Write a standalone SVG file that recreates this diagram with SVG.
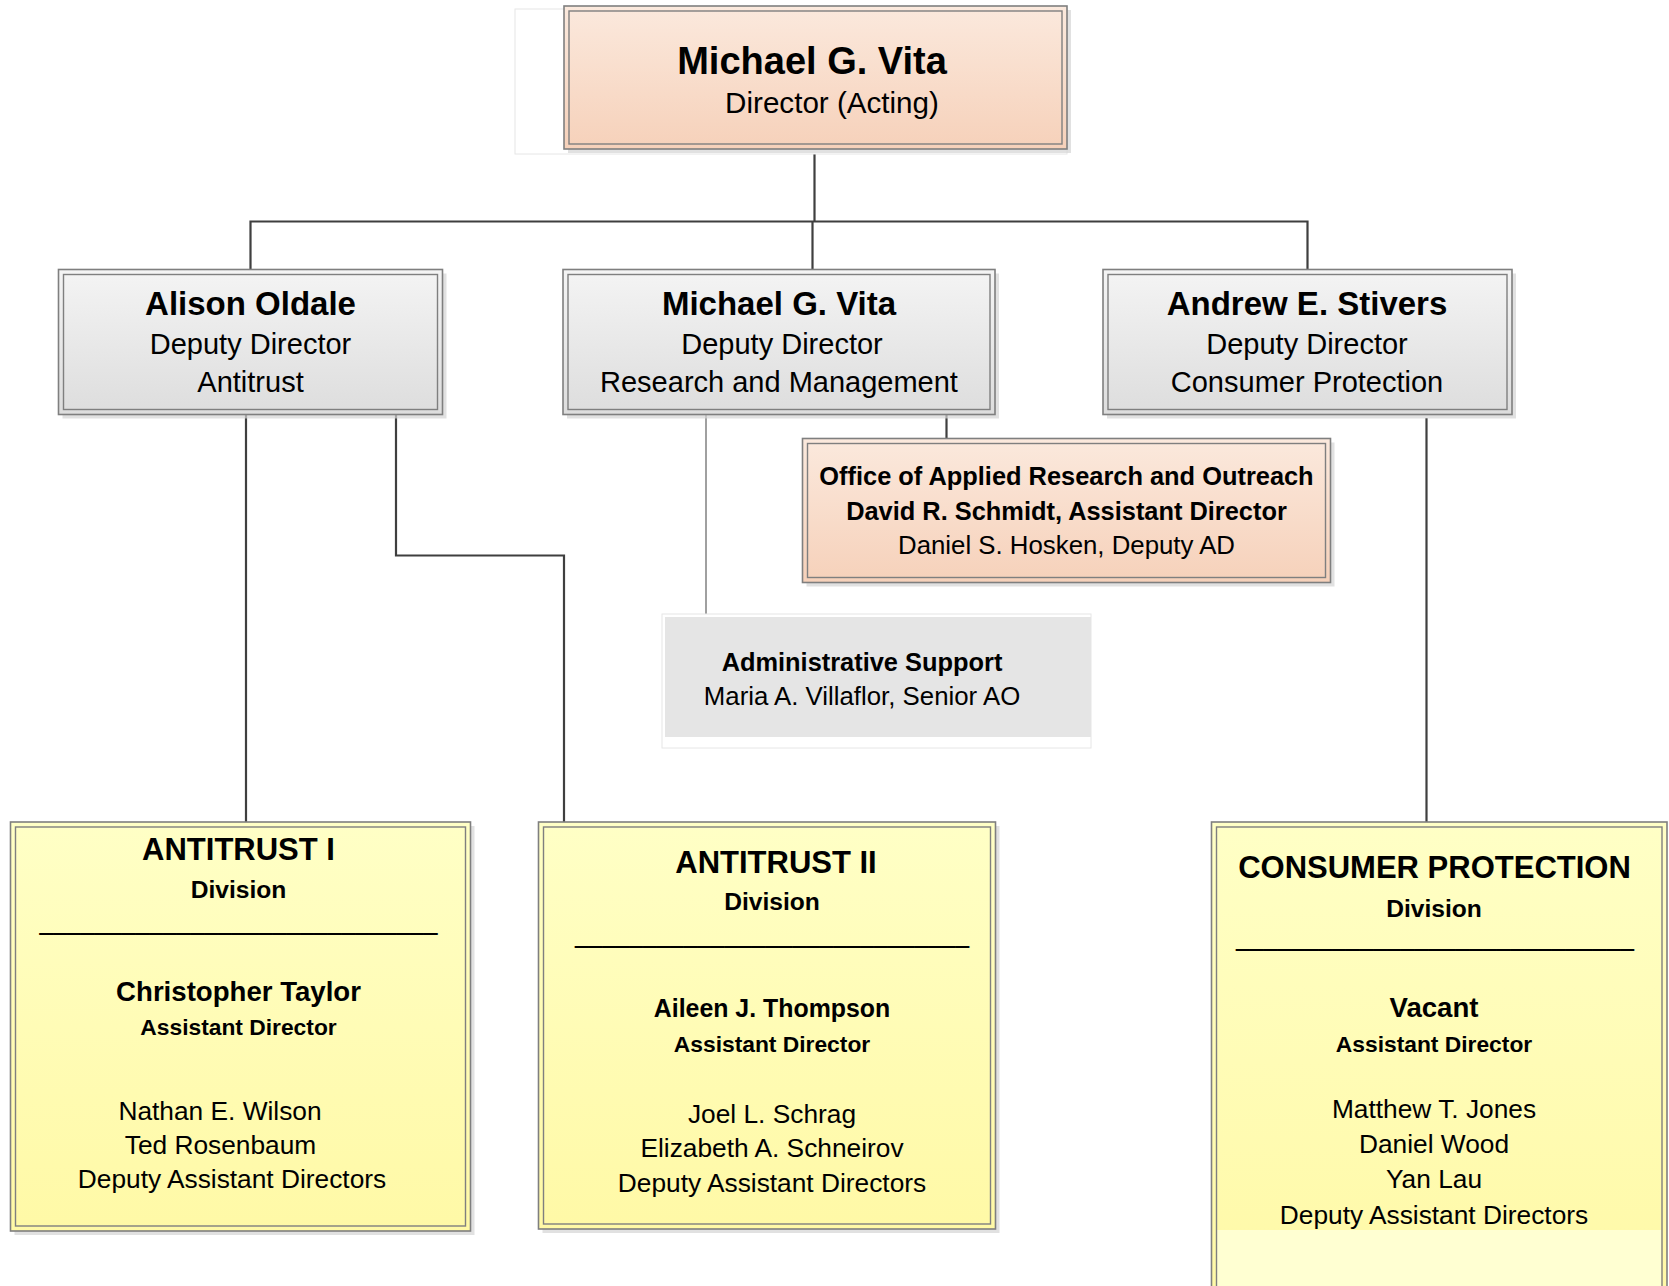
<svg xmlns="http://www.w3.org/2000/svg" width="1669" height="1286" viewBox="0 0 1669 1286">
<defs>
<linearGradient id="peach" x1="0" y1="0" x2="0" y2="1"><stop offset="0" stop-color="#FBE9DD"/><stop offset="1" stop-color="#F6D1BA"/></linearGradient>
<linearGradient id="gray" x1="0" y1="0" x2="0" y2="1"><stop offset="0" stop-color="#F4F4F4"/><stop offset="1" stop-color="#DDDDDD"/></linearGradient>
<linearGradient id="yellow" x1="0" y1="0" x2="0" y2="1"><stop offset="0" stop-color="#FFFFC6"/><stop offset="1" stop-color="#FFF9A6"/></linearGradient>
<linearGradient id="yellowcp" x1="0" y1="0" x2="0" y2="1"><stop offset="0" stop-color="#FFFFC6"/><stop offset="1" stop-color="#FFF9A6"/></linearGradient>
</defs>
<style>
text{font-family:"Liberation Sans",Arial,sans-serif;fill:#000;text-anchor:middle}
.b{font-weight:bold}
.shadow{fill:#D4D4D4;opacity:0.7}
.outer{stroke:#7F7F7F;stroke-width:1.6}
.inner{fill:none;stroke:#7F7F7F;stroke-width:1.4}
.faint{fill:#FFFFFF;stroke:#E6E6E6;stroke-width:1}
.conn{fill:none;stroke:#3F3F3F;stroke-width:2.2}
.connlight{fill:none;stroke:#808080;stroke-width:1.5}
.t1{font-size:38px;font-weight:bold}
.t2{font-size:29.6px}
.m1{font-size:33px;font-weight:bold}
.m2{font-size:29px}
.o1{font-size:25.4px;font-weight:bold}
.o2{font-size:25.8px}
.dt{font-size:31px;font-weight:bold}
.dv{font-size:24.6px;font-weight:bold}
.dp{font-size:27.6px;font-weight:bold}
.da{font-size:22.8px;font-weight:bold}
.dn{font-size:26.3px}
.us{font-size:32px}
</style>

<g id="connectors">
<polyline class="conn" points="814.5,149 814.5,221.5"/>
<polyline class="conn" points="250.5,269.5 250.5,221.5 1307.5,221.5 1307.5,269.5"/>
<polyline class="conn" points="812.5,221.5 812.5,269.5"/>
<polyline class="conn" points="246,414 246,822"/>
<polyline class="conn" points="396,412 396,555.5 564,555.5 564,822"/>
<polyline class="connlight" points="706,414 706,615"/>
<polyline class="conn" points="946.5,414 946.5,438.5"/>
<polyline class="conn" points="1426.5,418 1426.5,822"/>
</g>

<g id="director">
<rect class="faint" x="515" y="9" width="552" height="145"/>
<rect class="shadow" x="568" y="10" width="503" height="143"/>
<rect class="outer" fill="url(#peach)" x="564" y="6" width="503" height="143"/>
<rect class="inner" x="569" y="11" width="493" height="133"/>
<text class="t1" x="812" y="73.5">Michael G. Vita</text>
<text class="t2" x="832" y="113">Director (Acting)</text>
</g>

<g id="dd-antitrust">
<rect class="shadow" x="62.5" y="273.5" width="384" height="145"/>
<rect class="outer" fill="url(#gray)" x="58.5" y="269.5" width="384" height="145"/>
<rect class="inner" x="63.5" y="274.5" width="374" height="135"/>
<text class="m1" x="250.5" y="315">Alison Oldale</text>
<text class="m2" x="250.5" y="353.5">Deputy Director</text>
<text class="m2" x="250.5" y="391.5">Antitrust</text>
</g>

<g id="dd-research">
<rect class="shadow" x="567" y="273.5" width="432" height="145"/>
<rect class="outer" fill="url(#gray)" x="563" y="269.5" width="432" height="145"/>
<rect class="inner" x="568" y="274.5" width="422" height="135"/>
<text class="m1" x="779" y="315">Michael G. Vita</text>
<text class="m2" x="782" y="353.5">Deputy Director</text>
<text class="m2" x="779" y="391.5">Research and Management</text>
</g>

<g id="dd-consumer">
<rect class="shadow" x="1107" y="273.5" width="409" height="145"/>
<rect class="outer" fill="url(#gray)" x="1103" y="269.5" width="409" height="145"/>
<rect class="inner" x="1108" y="274.5" width="399" height="135"/>
<text class="m1" x="1307" y="315">Andrew E. Stivers</text>
<text class="m2" x="1307" y="353.5">Deputy Director</text>
<text class="m2" x="1307" y="391.5">Consumer Protection</text>
</g>

<g id="oaro">
<rect class="shadow" x="806.5" y="442.5" width="528" height="144"/>
<rect class="outer" fill="url(#peach)" x="802.5" y="438.5" width="528" height="144"/>
<rect class="inner" x="807.5" y="443.5" width="518" height="134"/>
<text class="o1" x="1066.5" y="484.5">Office of Applied Research and Outreach</text>
<text class="o1" x="1066.5" y="519.5">David R. Schmidt, Assistant Director</text>
<text class="o2" x="1066.5" y="554">Daniel S. Hosken, Deputy AD</text>
</g>

<g id="admin">
<rect class="faint" x="662" y="614" width="429" height="134"/>
<rect x="665" y="617" width="426" height="120" fill="#E5E5E5"/>
<text class="o1" x="862" y="670.5">Administrative Support</text>
<text class="o2" x="862" y="705">Maria A. Villaflor, Senior AO</text>
</g>

<g id="antitrust-1">
<rect class="shadow" x="14.5" y="826" width="460" height="409"/>
<rect class="outer" fill="url(#yellow)" x="10.5" y="822" width="460" height="409"/>
<rect class="inner" x="15.5" y="827" width="450" height="399"/>
<text class="dt" x="238.5" y="860">ANTITRUST I</text>
<text class="dv" x="238.5" y="897.5">Division</text>
<text class="us" x="238.5" y="929" textLength="398" lengthAdjust="spacingAndGlyphs">_____________________________</text>
<text class="dp" x="238.5" y="1000.5">Christopher Taylor</text>
<text class="da" x="238.5" y="1034.5">Assistant Director</text>
<text class="dn" x="220" y="1120">Nathan E. Wilson</text>
<text class="dn" x="220.5" y="1154">Ted Rosenbaum</text>
<text class="dn" x="232" y="1188">Deputy Assistant Directors</text>
</g>

<g id="antitrust-2">
<rect class="shadow" x="542.5" y="826" width="457" height="407"/>
<rect class="outer" fill="url(#yellow)" x="538.5" y="822" width="457" height="407"/>
<rect class="inner" x="543.5" y="827" width="447" height="397"/>
<text class="dt" x="776" y="873">ANTITRUST II</text>
<text class="dv" x="772" y="910">Division</text>
<text class="us" x="772" y="942" textLength="394" lengthAdjust="spacingAndGlyphs">_____________________________</text>
<text class="o1" x="772" y="1016.5" style="font-size:24.9px">Aileen J. Thompson</text>
<text class="da" x="772" y="1051.5">Assistant Director</text>
<text class="dn" x="772" y="1123">Joel L. Schrag</text>
<text class="dn" x="772" y="1157">Elizabeth A. Schneirov</text>
<text class="dn" x="772" y="1192">Deputy Assistant Directors</text>
</g>

<g id="consumer-protection">
<rect class="outer" fill="url(#yellowcp)" x="1211.5" y="822" width="455.5" height="480"/>
<rect x="1217" y="1230" width="444.5" height="70" fill="#FFFFD2"/>
<rect class="inner" x="1216.5" y="827" width="445.5" height="470"/>
<text class="dt" x="1434.5" y="878">CONSUMER PROTECTION</text>
<text class="dv" x="1434" y="916.5">Division</text>
<text class="us" x="1435" y="945" textLength="398" lengthAdjust="spacingAndGlyphs">_____________________________</text>
<text class="dp" x="1434" y="1016.5">Vacant</text>
<text class="da" x="1434" y="1051.5">Assistant Director</text>
<text class="dn" x="1434" y="1118">Matthew T. Jones</text>
<text class="dn" x="1434" y="1153">Daniel Wood</text>
<text class="dn" x="1434" y="1188">Yan Lau</text>
<text class="dn" x="1434" y="1224">Deputy Assistant Directors</text>
</g>
</svg>
